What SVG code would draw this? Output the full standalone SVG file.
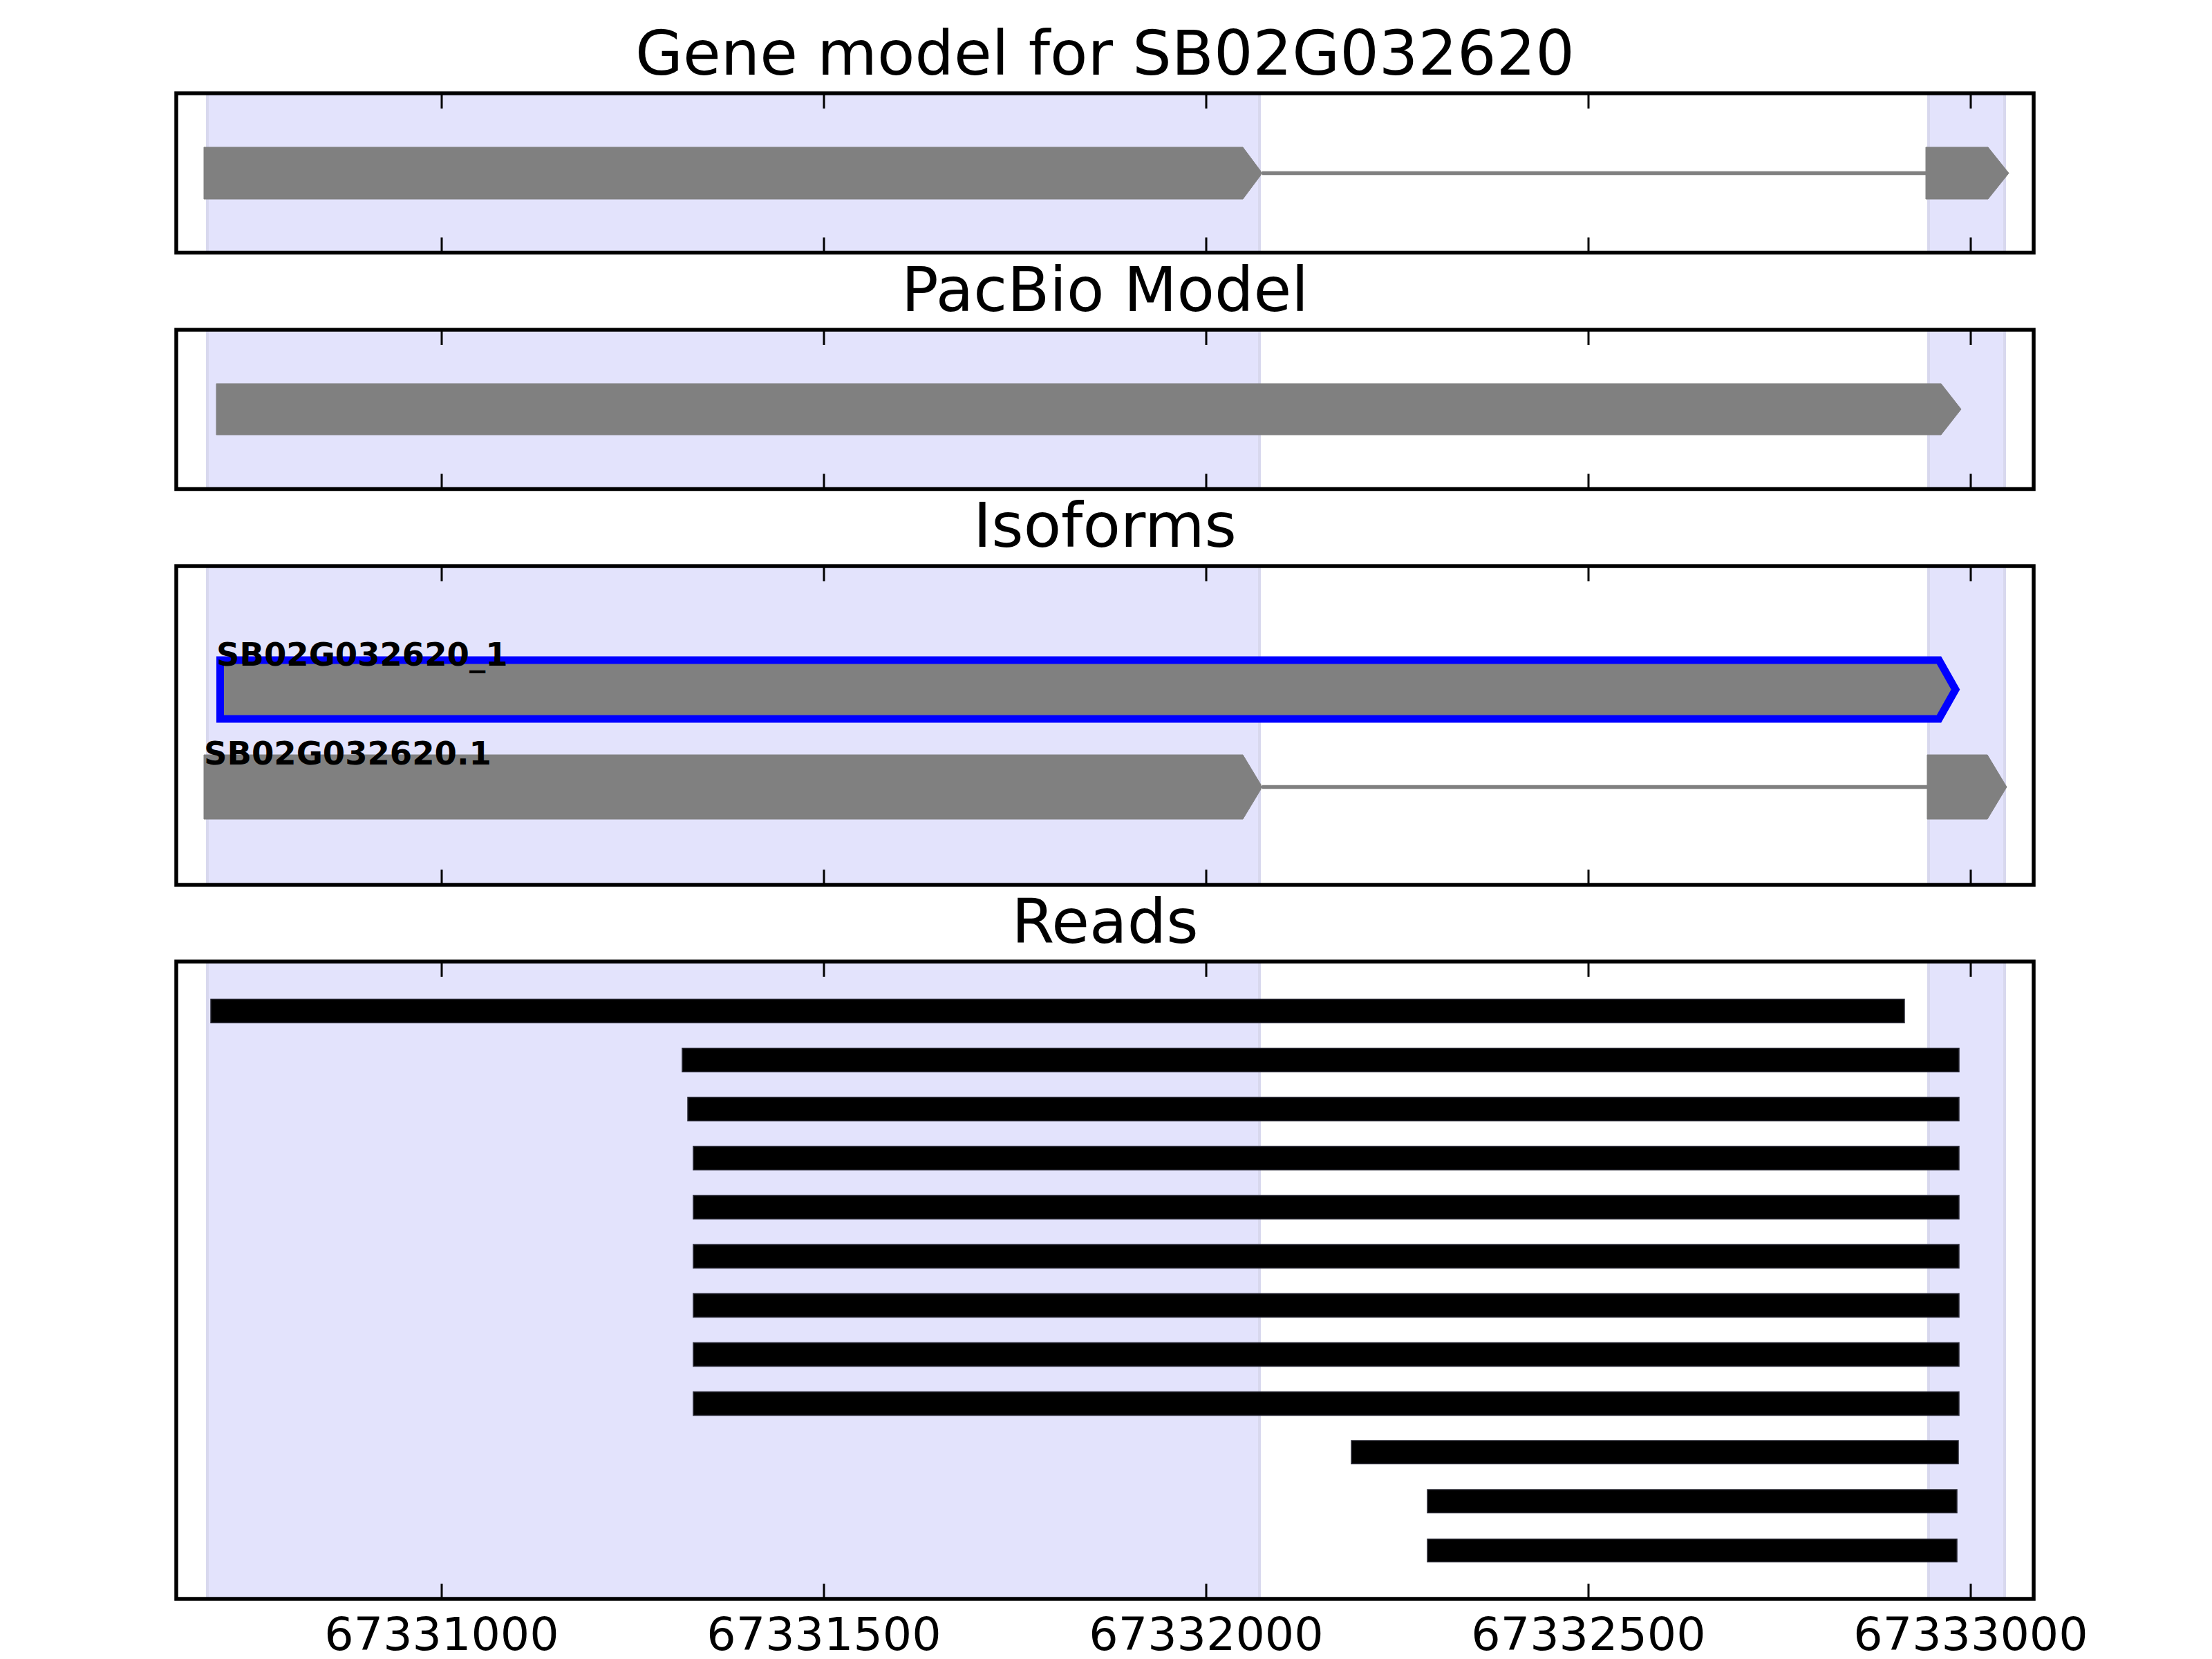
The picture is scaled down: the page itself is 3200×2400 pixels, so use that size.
<svg xmlns="http://www.w3.org/2000/svg" width="3200" height="2400" viewBox="0 0 3200 2400">
<defs>
<style>
.bg{fill:#ffffff}
.shade{fill:#e3e3fc;stroke:#d8d8ee;stroke-width:4}
.frame{fill:none;stroke:#000000;stroke-width:5.5}
.tick{stroke:#000000;stroke-width:3}
.exon{fill:#808080;stroke:#808080;stroke-width:1}
.intron{stroke:#808080;stroke-width:5.5;fill:none}
.sel{fill:#808080;stroke:#0000ff;stroke-width:11;stroke-linejoin:miter}
.read{fill:#000000;stroke:#2a2a35;stroke-width:1.5}
.title{font-family:"DejaVu Sans","Liberation Sans",sans-serif;font-size:89px;fill:#000000;text-anchor:middle}
.lbl{font-family:"DejaVu Sans","Liberation Sans",sans-serif;font-size:46.5px;font-weight:bold;fill:#000000}
.tl{font-family:"DejaVu Sans","Liberation Sans",sans-serif;font-size:66.7px;fill:#000000;text-anchor:middle}
</style>
</defs>
<rect class="bg" x="0" y="0" width="3200" height="2400"/>

<!-- Panel 1: Gene model -->
<g id="panel-gene-model">
<rect class="shade" x="300" y="135" width="1522" height="230.5"/>
<rect class="shade" x="2790" y="135" width="110" height="230.5"/>
<g id="gm-exon1"><polygon class="exon" points="295,213 1798,213 1826,250.5 1798,288 295,288"/></g>
<g id="gm-exon2"><polygon class="exon" points="2786,213 2876,213 2906,250.5 2876,288 2786,288"/></g>
<g class="tick">
<line x1="639" y1="135" x2="639" y2="157"/><line x1="1192" y1="135" x2="1192" y2="157"/><line x1="1745" y1="135" x2="1745" y2="157"/><line x1="2298" y1="135" x2="2298" y2="157"/><line x1="2851" y1="135" x2="2851" y2="157"/>
<line x1="639" y1="365.5" x2="639" y2="343.5"/><line x1="1192" y1="365.5" x2="1192" y2="343.5"/><line x1="1745" y1="365.5" x2="1745" y2="343.5"/><line x1="2298" y1="365.5" x2="2298" y2="343.5"/><line x1="2851" y1="365.5" x2="2851" y2="343.5"/>
</g>
<rect class="frame" x="255" y="135" width="2687" height="230.5"/>
<text class="title" x="1598.5" y="107.5">Gene model for SB02G032620</text>
</g>

<!-- Panel 2: PacBio Model -->
<g id="panel-pacbio">
<rect class="shade" x="300" y="477" width="1522" height="230.5"/>
<rect class="shade" x="2790" y="477" width="110" height="230.5"/>
<g id="pb-model"><polygon class="exon" points="313,555 2808,555 2837,592 2808,629 313,629"/></g>
<g class="tick">
<line x1="639" y1="477" x2="639" y2="499"/><line x1="1192" y1="477" x2="1192" y2="499"/><line x1="1745" y1="477" x2="1745" y2="499"/><line x1="2298" y1="477" x2="2298" y2="499"/><line x1="2851" y1="477" x2="2851" y2="499"/>
<line x1="639" y1="707.5" x2="639" y2="685.5"/><line x1="1192" y1="707.5" x2="1192" y2="685.5"/><line x1="1745" y1="707.5" x2="1745" y2="685.5"/><line x1="2298" y1="707.5" x2="2298" y2="685.5"/><line x1="2851" y1="707.5" x2="2851" y2="685.5"/>
</g>
<rect class="frame" x="255" y="477" width="2687" height="230.5"/>
<text class="title" x="1598.5" y="449.5">PacBio Model</text>
</g>

<!-- Panel 3: Isoforms -->
<g id="panel-isoforms">
<rect class="shade" x="300" y="819" width="1522" height="461"/>
<rect class="shade" x="2790" y="819" width="110" height="461"/>
<g id="iso-1">
<polygon class="sel" points="318.5,955 2805,955 2829,997.5 2805,1040 318.5,1040"/>
<text class="lbl" x="313" y="963">SB02G032620_1</text>
</g>
<g id="iso-2">
<polygon class="exon" points="295,1092 1798,1092 1826,1138.5 1798,1185 295,1185"/>
<polygon class="exon" points="2788,1092 2875,1092 2903,1138.5 2875,1185 2788,1185"/>
<text class="lbl" x="295" y="1106">SB02G032620.1</text>
</g>
<g class="tick">
<line x1="639" y1="819" x2="639" y2="841"/><line x1="1192" y1="819" x2="1192" y2="841"/><line x1="1745" y1="819" x2="1745" y2="841"/><line x1="2298" y1="819" x2="2298" y2="841"/><line x1="2851" y1="819" x2="2851" y2="841"/>
<line x1="639" y1="1280" x2="639" y2="1258"/><line x1="1192" y1="1280" x2="1192" y2="1258"/><line x1="1745" y1="1280" x2="1745" y2="1258"/><line x1="2298" y1="1280" x2="2298" y2="1258"/><line x1="2851" y1="1280" x2="2851" y2="1258"/>
</g>
<rect class="frame" x="255" y="819" width="2687" height="461"/>
<text class="title" x="1598.5" y="791">Isoforms</text>
</g>

<!-- Panel 4: Reads -->
<g id="panel-reads">
<rect class="shade" x="300" y="1391" width="1522" height="922"/>
<rect class="shade" x="2790" y="1391" width="110" height="922"/>
<g id="read-1"><rect class="read" x="305" y="1445.5" width="2450" height="34"/></g>
<g id="read-2"><rect class="read" x="987" y="1516.5" width="1847" height="34"/></g>
<g id="read-3"><rect class="read" x="995" y="1587.5" width="1839" height="34"/></g>
<g id="read-4"><rect class="read" x="1003" y="1658.5" width="1831" height="34"/></g>
<g id="read-5"><rect class="read" x="1003" y="1729.5" width="1831" height="34"/></g>
<g id="read-6"><rect class="read" x="1003" y="1800.5" width="1831" height="34"/></g>
<g id="read-7"><rect class="read" x="1003" y="1871.5" width="1831" height="34"/></g>
<g id="read-8"><rect class="read" x="1003" y="1942.5" width="1831" height="34"/></g>
<g id="read-9"><rect class="read" x="1003" y="2013.5" width="1831" height="34"/></g>
<g id="read-10"><rect class="read" x="1955" y="2084" width="878" height="33.5"/></g>
<g id="read-11"><rect class="read" x="2065" y="2155" width="766" height="33.5"/></g>
<g id="read-12"><rect class="read" x="2065" y="2226.5" width="766" height="33"/></g>
<g class="tick">
<line x1="639" y1="1391" x2="639" y2="1413"/><line x1="1192" y1="1391" x2="1192" y2="1413"/><line x1="1745" y1="1391" x2="1745" y2="1413"/><line x1="2298" y1="1391" x2="2298" y2="1413"/><line x1="2851" y1="1391" x2="2851" y2="1413"/>
<line x1="639" y1="2313" x2="639" y2="2291"/><line x1="1192" y1="2313" x2="1192" y2="2291"/><line x1="1745" y1="2313" x2="1745" y2="2291"/><line x1="2298" y1="2313" x2="2298" y2="2291"/><line x1="2851" y1="2313" x2="2851" y2="2291"/>
</g>
<rect class="frame" x="255" y="1391" width="2687" height="922"/>
<text class="title" x="1598.5" y="1363.5">Reads</text>
<g id="x-axis-labels">
<text class="tl" x="639" y="2387">67331000</text>
<text class="tl" x="1192" y="2387">67331500</text>
<text class="tl" x="1745" y="2387">67332000</text>
<text class="tl" x="2298" y="2387">67332500</text>
<text class="tl" x="2851" y="2387">67333000</text>
</g>
</g>

<!-- Connectors: introns -->
<g id="connectors">
<line class="intron" x1="1826" y1="250.5" x2="2786" y2="250.5"/>
<line class="intron" x1="1826" y1="1138.5" x2="2788" y2="1138.5"/>
</g>
</svg>
